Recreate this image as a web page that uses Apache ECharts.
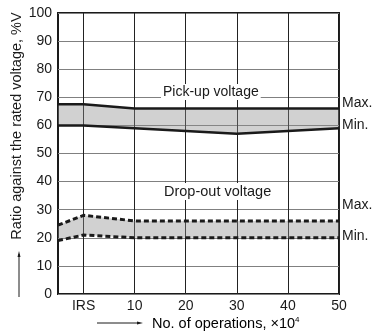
<!DOCTYPE html>
<html>
<head>
<meta charset="utf-8">
<script src="https://cdn.jsdelivr.net/npm/echarts@6/dist/echarts.min.js"></script>
<style>
  html, body { margin: 0; padding: 0; background: #fff; }
  #myChart { width: 373px; height: 335px; }
</style>
</head>
<body>
<div id="myChart"></div>
<script>
// operations (x10^4), -5 is the left edge of the plot
const ops = [-5, 0, 10, 20, 30, 40, 50];
const xTicks = [0, 10, 20, 30, 40, 50];
const pickUpMax = [67.5, 67.5, 66, 66, 66, 66, 66];
const pickUpMin = [60, 60, 59, 58, 57, 58, 59];
const dropOutMax = [24.5, 28, 26, 26, 26, 26, 26];
const dropOutMin = [19, 21, 20, 20, 20, 20, 20];

const font = "'Liberation Sans', Arial, sans-serif";
const ink = "#1a1a1a";
const band = "rgba(140,140,140,0.4)";

function pairs(ys) {
  return ys.map((y, i) => [ops[i], y]);
}

// 灰色带：用 custom 系列画 max/min 之间的多边形
function bandFill(min, max) {
  return {
    type: "custom",
    data: ops.map((x, i) => [x, min[i], max[i]]),
    renderItem: function (params, api) {
      if (params.dataIndex !== 0) return null;
      const top = ops.map((x, i) => api.coord([x, max[i]]));
      const bottom = ops.map((x, i) => api.coord([x, min[i]])).reverse();
      return {
        type: "polygon",
        shape: { points: top.concat(bottom) },
        style: { fill: band },
      };
    },
    z: 2,
  };
}

function edge(ys, dashed, name, dy) {
  return {
    type: "line",
    data: pairs(ys),
    symbol: "none",
    lineStyle: { color: ink, width: dashed ? 3 : 2.5, type: dashed ? [5, 3] : "solid" },
    endLabel: {
      show: true, formatter: name, distance: 3, offset: [0, dy],
      color: ink, fontSize: 14, fontFamily: font,
    },
    z: 3,
  };
}

let myChart = echarts.init(document.getElementById("myChart"));
myChart.setOption({
  animation: false,
  grid: {
    left: 58, right: 34, top: 13, bottom: 41,
    show: true, borderColor: ink, borderWidth: 2,
  },
  xAxis: {
    type: "value",
    min: -5,
    max: 50,
    axisLine: { show: false },
    axisTick: { show: false, customValues: xTicks },
    axisLabel: {
      customValues: xTicks,
      margin: 5,
      color: ink,
      fontSize: 14,
      fontFamily: font,
      formatter: (v) => (v === 0 ? "IRS" : String(v)),
    },
    splitLine: { show: true, lineStyle: { color: "#222", width: 1 } },
  },
  yAxis: {
    type: "value",
    min: 0,
    max: 100,
    interval: 10,
    axisLine: { show: false },
    axisTick: { show: false },
    axisLabel: { margin: 6, color: ink, fontSize: 14, fontFamily: font },
    splitLine: { show: true, lineStyle: { color: "#808080", width: 1 } },
  },
  series: [
    bandFill(pickUpMin, pickUpMax),
    bandFill(dropOutMin, dropOutMax),
    edge(pickUpMax, false, "Max.", -5),
    edge(pickUpMin, false, "Min.", -3),
    edge(dropOutMax, true, "Max.", -16),
    edge(dropOutMin, true, "Min.", -2),
  ],
  graphic: [
    {
      type: "text", left: 161, top: 84, z: 10,
      style: {
        text: "Pick-up voltage", fill: ink, font: "14px " + font,
        backgroundColor: "#fff", padding: [1, 2],
      },
    },
    {
      type: "text", left: 162, top: 183, z: 10,
      style: {
        text: "Drop-out voltage", fill: ink, font: "14.5px " + font,
        backgroundColor: "#fff", padding: [1, 2],
      },
    },
    {
      // y axis name, reads bottom to top
      type: "text", x: 17, y: 126, rotation: Math.PI / 2,
      style: {
        text: "Ratio against the rated voltage, %V", fill: ink,
        font: "14.5px " + font, align: "center", verticalAlign: "middle",
      },
    },
    { type: "line", shape: { x1: 19, y1: 297, x2: 19, y2: 254 }, style: { stroke: ink, lineWidth: 1 } },
    { type: "polygon", shape: { points: [[19, 251], [17.5, 257], [20.5, 257]] }, style: { fill: ink } },
    {
      type: "text", left: 152, top: 316,
      style: {
        text: "{a|No. of operations, \u00d710}{s|4}",
        rich: {
          a: { fontSize: 14.5, fontFamily: font, color: ink },
          s: { fontSize: 8, fontFamily: font, color: ink, verticalAlign: "top", padding: [0, 0, 8, 0] },
        },
      },
    },
    { type: "line", shape: { x1: 97, y1: 323, x2: 139, y2: 323 }, style: { stroke: ink, lineWidth: 1 } },
    { type: "polygon", shape: { points: [[143, 323], [137, 321.5], [137, 324.5]] }, style: { fill: ink } },
  ],
});
</script>
</body>
</html>
